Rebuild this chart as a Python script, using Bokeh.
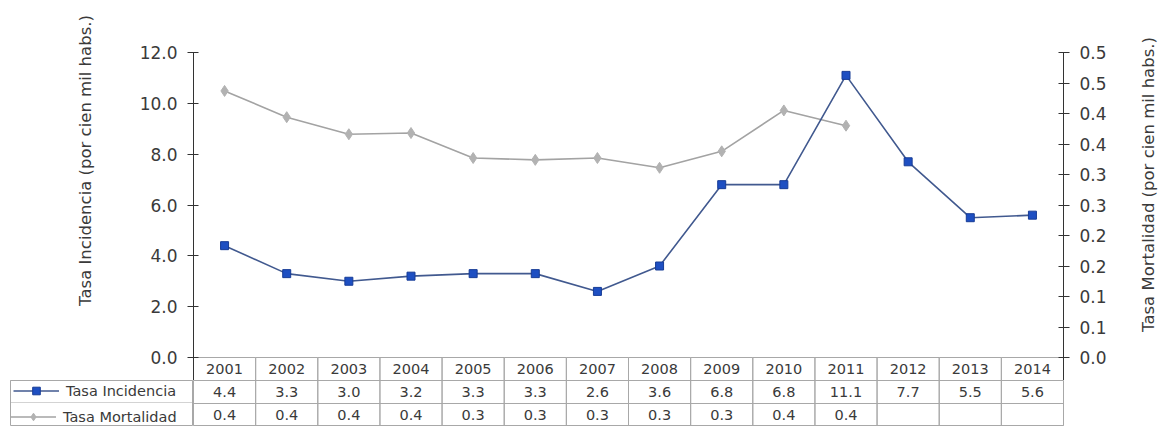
import math
from bokeh.plotting import figure
from bokeh.layouts import column, row
from bokeh.models import (FactorRange, Range1d, LinearAxis, FixedTicker, NumeralTickFormatter,
                          Legend, LegendItem)
from bokeh.core.properties import value
from bokeh.embed import file_html
from bokeh.resources import INLINE

# ---------------- data ----------------
years = ["2001", "2002", "2003", "2004", "2005", "2006", "2007",
         "2008", "2009", "2010", "2011", "2012", "2013", "2014"]
incidencia = [4.4, 3.3, 3.0, 3.2, 3.3, 3.3, 2.6, 3.6, 6.8, 6.8, 11.1, 7.7, 5.5, 5.6]
mort_years = ["2001", "2002", "2003", "2004", "2005", "2006", "2007",
              "2008", "2009", "2010", "2011"]
mortalidad = [0.437, 0.394, 0.366, 0.368, 0.327, 0.324, 0.327, 0.311, 0.338, 0.405, 0.380]

left_ticks = [0, 2, 4, 6, 8, 10, 12]
right_ticks = [0.0, 0.05, 0.1, 0.15, 0.2, 0.25, 0.3, 0.35, 0.4, 0.45, 0.5]
right_tick_labels = ["0.0", "0.1", "0.1", "0.2", "0.2", "0.3", "0.3", "0.4", "0.4", "0.5", "0.5"]

left_title = "Tasa Incidencia (por cien mil habs.)"
right_title = "Tasa Mortalidad (por cien mil habs.)"
inc_name = "Tasa Incidencia"
mort_name = "Tasa Mortalidad"

# ---------------- geometry ----------------
W = 1162
LT_W, RT_W = 110, 52                 # side strips holding the axis titles
TABLE_LEFT = 10
FRAME_L, FRAME_R = 193, 1063
TOP_PX = 52                          # y of the 12.0 tick
PLOT_PX = 305.0                      # pixels from 0 to 12 on the left axis
HEAD_PX = 23                         # header row (years) height
ROW_PX = 23                          # value rows height
LEFT_MAX = 12.0
RIGHT_MAX = 0.5
ppu = PLOT_PX / LEFT_MAX
H1 = TOP_PX + int(PLOT_PX) + HEAD_PX
y_start = -HEAD_PX / ppu
y_end = LEFT_MAX + TOP_PX / ppu
r_start = y_start * RIGHT_MAX / LEFT_MAX
r_end = y_end * RIGHT_MAX / LEFT_MAX
H2 = 2 * ROW_PX

FONT = "DejaVu Sans"
TXT = "#3a3a3a"
GRID = "#a8a8a8"
AX = "#333333"
BLUE_LINE = "#41598f"
BLUE = "#1e4fc2"
BLUE_EDGE = "#173c96"
GREY_LINE = "#a3a3a3"
GREY = "#b2b2b2"
TFS = "14.5px"


def bare(fig):
    fig.xgrid.visible = False
    fig.ygrid.visible = False
    fig.outline_line_color = None
    return fig


# ---------------- chart ----------------
p = bare(figure(width=W - LT_W - RT_W, height=H1,
                x_range=FactorRange(factors=years, range_padding=0),
                y_range=Range1d(y_start, y_end), output_backend="svg",
                toolbar_location=None, x_axis_location=None,
                min_border_left=FRAME_L - LT_W, min_border_right=(W - RT_W) - FRAME_R,
                min_border_top=0, min_border_bottom=0))
p.extra_y_ranges = {"right": Range1d(r_start, r_end)}

ya = p.yaxis[0]
ya.ticker = FixedTicker(ticks=left_ticks)
ya.formatter = NumeralTickFormatter(format="0.0")
ya.bounds = (y_start, LEFT_MAX)
ra = LinearAxis(y_range_name="right", ticker=FixedTicker(ticks=right_ticks),
                major_label_overrides=dict(zip(right_ticks, right_tick_labels)),
                bounds=(r_start, RIGHT_MAX))
p.add_layout(ra, "right")
for ax in (ya, ra):
    ax.axis_line_color = AX
    ax.major_tick_line_color = AX
    ax.minor_tick_line_color = None
    ax.major_tick_out = 6
    ax.major_tick_in = 5
    ax.major_label_standoff = 10
    ax.major_label_text_font = FONT
    ax.major_label_text_font_size = "17px"
    ax.major_label_text_color = TXT

# header row of the table (years)
p.rect(x=years, y=[y_start / 2] * len(years), width=1, height=-y_start,
       fill_color=None, line_color=GRID, line_width=1)
p.text(x=years, y=[y_start / 2] * len(years), text=years, text_align="center",
       text_baseline="middle", text_font=value(FONT), text_font_size=TFS, text_color=TXT)

# series
ml = p.line(mort_years, mortalidad, y_range_name="right", line_color=GREY_LINE, line_width=1.6)
ms = p.scatter(mort_years, mortalidad, y_range_name="right", marker="diamond", size=11,
               fill_color=GREY, line_color=GREY)
il = p.line(years, incidencia, line_color=BLUE_LINE, line_width=1.6)
isc = p.scatter(years, incidencia, marker="square", size=8, fill_color=BLUE, line_color=BLUE_EDGE)

# ---------------- axis titles (side strips) ----------------
lt = bare(figure(width=LT_W, height=H1, x_range=Range1d(TABLE_LEFT, LT_W),
                 y_range=Range1d(0, H1), output_backend="svg", toolbar_location=None,
                 x_axis_location=None, y_axis_location=None, min_border_left=TABLE_LEFT,
                 min_border_right=0, min_border_top=0, min_border_bottom=0))
lt.text(x=[85], y=[H1 - 160], text=[left_title], angle=math.pi / 2, text_align="center",
        text_baseline="middle", text_font=value(FONT), text_font_size="16.5px", text_color=TXT)
rt = bare(figure(width=RT_W, height=H1, x_range=Range1d(0, RT_W), y_range=Range1d(0, H1),
                 output_backend="svg", toolbar_location=None, x_axis_location=None,
                 y_axis_location=None, min_border=0))
rt.text(x=[38], y=[H1 - 184], text=[right_title], angle=math.pi / 2, text_align="center",
        text_baseline="middle", text_font=value(FONT), text_font_size="16.5px", text_color=TXT)

# ---------------- table: value rows ----------------
t = figure(width=W - FRAME_L, height=H2, x_range=p.x_range, y_range=Range1d(-H2, 0),
           output_backend="svg", toolbar_location=None, x_axis_location=None,
           y_axis_location=None, min_border_left=0, min_border_right=W - FRAME_R,
           min_border_top=0, min_border_bottom=0)
t.xgrid.visible = False
t.ygrid.visible = False
t.outline_line_color = GRID
rc = [-ROW_PX / 2, -ROW_PX * 1.5]
for c in rc:
    t.rect(x=years, y=[c] * len(years), width=1, height=ROW_PX,
           fill_color=None, line_color=GRID, line_width=1)
t.text(x=years, y=[rc[0]] * len(years), text=[f"{v:.1f}" for v in incidencia],
       text_align="center", text_baseline="middle", text_font=value(FONT),
       text_font_size=TFS, text_color=TXT)
t.text(x=mort_years, y=[rc[1]] * len(mort_years), text=[f"{v:.1f}" for v in mortalidad],
       text_align="center", text_baseline="middle", text_font=value(FONT),
       text_font_size=TFS, text_color=TXT)

# ---------------- table: legend column ----------------
g = figure(width=FRAME_L, height=H2, x_range=Range1d(0, 1), y_range=Range1d(0, 1),
           output_backend="svg", toolbar_location=None, x_axis_location=None,
           y_axis_location=None, min_border_left=TABLE_LEFT, min_border_right=0,
           min_border_top=0, min_border_bottom=0)
g.xgrid.visible = False
g.ygrid.visible = False
g.outline_line_color = GRID
year_nums = [int(y) for y in years]          # far outside this strip's range: only the legend shows
mort_nums = [int(y) for y in mort_years]
gil = g.line(x=year_nums, y=incidencia, line_color=BLUE_LINE, line_width=1.6)
gis = g.scatter(x=year_nums, y=incidencia, marker="square", size=8, fill_color=BLUE,
                line_color=BLUE_EDGE)
gml = g.line(x=mort_nums, y=mortalidad, line_color=GREY_LINE, line_width=1.6)
gms = g.scatter(x=mort_nums, y=mortalidad, marker="diamond", size=10, fill_color=GREY,
                line_color=GREY)
for items, loc, border in (([LegendItem(label=inc_name, renderers=[gil, gis])], (0, ROW_PX), GRID),
                           ([LegendItem(label=mort_name, renderers=[gml, gms])], (0, 0), None)):
    lg = Legend(items=items, location=loc, orientation="vertical", padding=2, spacing=0,
                margin=0, glyph_width=46, glyph_height=ROW_PX - 4, label_standoff=7,
                label_width=124, label_height=ROW_PX - 4, label_text_font=FONT,
                label_text_font_size=TFS, label_text_color=TXT, label_text_baseline="middle",
                border_line_color=border, background_fill_alpha=0)
    g.add_layout(lg)

layout = column(row(lt, p, rt), row(g, t))
open("out.html", "w").write(file_html(layout, INLINE))
